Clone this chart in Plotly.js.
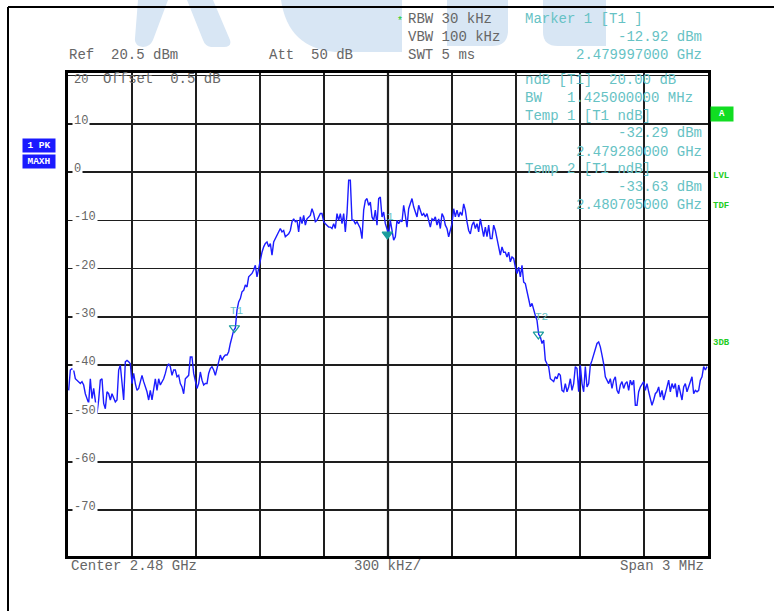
<!DOCTYPE html>
<html>
<head>
<meta charset="utf-8">
<script src="https://cdn.plot.ly/plotly-3.0.1.min.js"></script>
<style>
  html, body { margin: 0; padding: 0; background: #ffffff; }
  #chart { width: 774px; height: 611px; }
</style>
</head>
<body>
<div id="chart"></div>
<script>
// ---------------- DATA ----------------
const centerMHz = 2480.0;
const spanMHz = 3.0;
const refLevel = 20.5;
const yTickVals = [20, 10, 0, -10, -20, -30, -40, -50, -60, -70];

// trace levels (dBm), left half of the sweep
const levelsLeft = [
  -45.2,-41.0,-40.7,-41.0,-42.8,-43.1,-43.4,-43.8,-43.4,-44.1,
  -45.9,-47.2,-47.9,-42.8,-46.9,-44.8,-47.9,-50.0,-47.2,-43.1,
  -42.8,-47.9,-49.0,-45.5,-45.9,-47.2,-45.9,-46.6,-47.6,-47.2,
  -41.0,-40.0,-43.8,-47.2,-39.3,-39.0,-39.3,-39.7,-43.8,-41.7,
  -43.8,-45.2,-44.8,-43.4,-42.1,-43.4,-44.5,-45.5,-47.2,-45.2,
  -47.2,-44.5,-42.8,-45.2,-42.8,-44.1,-43.4,-42.8,-41.7,-40.3,
  -39.7,-40.3,-42.1,-41.0,-41.0,-42.4,-42.1,-43.8,-44.5,-45.9,
  -42.8,-42.4,-42.1,-38.3,-38.3,-41.7,-43.1,-44.8,-43.8,-41.4,
  -43.1,-44.1,-43.8,-43.8,-41.7,-40.7,-40.3,-41.0,-42.1,-40.3,
  -39.3,-37.9,-39.0,-38.3,-37.9,-37.9,-37.2,-35.5,-34.1,-32.8,
  -32.3,-28.6,-26.9,-26.2,-24.8,-24.5,-23.4,-23.8,-21.7,-21.4,
  -21.0,-20.3,-19.3,-21.7,-20.0,-17.9,-16.6,-15.5,-14.8,-14.5,
  -15.5,-14.8,-17.2,-14.5,-13.8,-13.1,-12.4,-11.7,-12.4,-12.1,
  -13.4,-13.1,-12.8,-12.1,-10.3,-9.7,-10.3,-10.0,-12.4,-9.3,
  -10.7,-9.0,-11.0,-9.7,-9.3,-9.0,-7.6,-8.6,-10.3,-10.0,
  -9.3,-8.6,-8.6,-10.3,-10.7,-11.0,-11.4,-11.4,-11.7,-10.7,
  -11.7,-8.6,-10.0,-8.6,-10.7,-8.6,-12.4,-8.6,-1.7,-1.7,
  -10.0,-10.0,-10.7,-10.3,-11.0,-11.7,-13.8,-7.9,-5.9,-5.5,
  -6.9,-6.2,-9.3,-10.0,-7.9,-11.0,-5.5,-5.2
];
// trace levels (dBm), right half of the sweep
const levelsRight = [
  -9.3,-8.3,-10.7,-11.7,-12.9,-10.0,-12.1,-14.1,-13.4,-10.0,
  -10.7,-10.0,-10.3,-6.9,-9.0,-11.4,-7.6,-6.6,-5.5,-7.2,
  -8.3,-9.3,-6.9,-7.9,-9.0,-8.6,-9.3,-8.6,-10.3,-11.4,
  -9.7,-10.0,-9.3,-11.0,-9.7,-11.7,-8.6,-9.3,-11.0,-11.7,
  -13.4,-11.7,-10.7,-7.6,-9.3,-7.9,-9.3,-8.3,-9.0,-6.6,
  -7.9,-10.3,-12.1,-12.8,-11.0,-10.3,-11.7,-10.7,-12.4,-9.7,
  -11.7,-13.4,-11.4,-13.4,-11.0,-13.8,-13.8,-11.0,-12.1,-13.8,
  -14.8,-17.2,-15.5,-16.6,-16.6,-17.6,-16.6,-18.6,-17.6,-17.9,
  -19.7,-21.0,-19.7,-21.7,-19.3,-22.8,-23.1,-24.5,-25.9,-27.9,
  -27.2,-28.6,-29.7,-30.7,-33.6,-34.1,-35.5,-34.8,-39.0,-39.7,
  -40.3,-42.8,-43.1,-43.4,-42.4,-42.8,-41.7,-42.1,-45.2,-45.5,
  -43.8,-45.5,-44.5,-42.8,-45.2,-43.8,-40.3,-40.7,-45.5,-40.0,
  -43.8,-45.5,-40.3,-44.5,-43.8,-40.0,-39.0,-37.9,-36.9,-35.5,
  -35.2,-36.2,-37.9,-39.7,-42.4,-43.1,-43.8,-42.8,-44.8,-43.1,
  -42.4,-45.2,-45.9,-44.1,-43.4,-44.8,-43.8,-43.4,-45.2,-43.1,
  -44.1,-43.1,-48.3,-48.3,-45.5,-44.5,-43.8,-43.4,-45.2,-43.8,
  -45.5,-46.9,-48.3,-47.2,-45.9,-45.5,-44.5,-46.6,-45.2,-47.2,
  -45.5,-44.5,-43.1,-45.5,-43.8,-44.8,-43.8,-46.6,-44.1,-45.5,
  -47.2,-44.5,-43.8,-45.5,-44.5,-43.4,-42.4,-45.9,-45.2,-45.5,
  -45.2,-43.1,-42.4,-40.3,-41.0,-40.3
];

// markers
const markerLabels = ["T1", "1", "T2"];
const markerFreqsMHz = [2479.280, 2479.997, 2480.705];
const markerLevels = [-32.29, -12.92, -33.63];
const markerSymbols = ["triangle-down-open", "triangle-down", "triangle-down-open"];

// ---------------- BUILD ----------------
const levels = levelsLeft.concat(levelsRight);
const fStart = centerMHz - spanMHz / 2;
const fStop = centerMHz + spanMHz / 2;
const step = spanMHz / levels.length;
const freqs = levels.map((_, i) => fStart + (i + 0.4) * step);

const L = 68, R = 708, T = 73, B = 556;
const px = x => (x - L) / (R - L);
const py = y => (B - y) / (B - T);

const MONO = "Liberation Mono, Courier New, monospace";
const GRAY = "#666666";
const CYAN = "#66c2c4";
const GREEN = "#22cc22";

function txt(text, x, y, anchor, color, size, extra) {
  return Object.assign({
    text: text, xref: "paper", yref: "paper", x: px(x), y: py(y),
    xanchor: anchor, yanchor: "middle", showarrow: false,
    font: { family: MONO, size: size || 14, color: color || GRAY }
  }, extra || {});
}
const boldFont = (size, color) => ({ family: MONO, size: size, color: color, weight: "bold" });

const annotations = [
  txt("Ref  20.5 dBm", 67, 55, "left"),
  txt("Att  50 dB", 267, 55, "left"),
  txt("RBW 30 kHz", 406, 19, "left"),
  txt("VBW 100 kHz", 406, 37, "left"),
  txt("SWT 5 ms", 406, 55, "left"),
  txt("*", 400, 21, "center", GREEN, 10),
  txt("Marker 1 [T1 ]", 523, 19, "left", CYAN),
  txt("-12.92 dBm", 704, 37, "right", CYAN),
  txt("2.479997000 GHz", 704, 55, "right", CYAN),
  txt("ndB [T1]  20.00 dB", 523, 80, "left", CYAN),
  txt("BW   1.425000000 MHz", 523, 98, "left", CYAN),
  txt("Temp 1 [T1 ndB]", 523, 116, "left", CYAN),
  txt("-32.29 dBm", 704, 133, "right", CYAN),
  txt("2.479280000 GHz", 704, 152, "right", CYAN),
  txt("Temp 2 [T1 ndB]", 523, 169, "left", CYAN),
  txt("-33.63 dBm", 704, 187, "right", CYAN),
  txt("2.480705000 GHz", 704, 205, "right", CYAN),
  txt("Offset  0.5 dB", 101, 79, "left"),
  txt("Center 2.48 GHz", 69, 566, "left"),
  txt("300 kHz/", 352, 566, "left"),
  txt("Span 3 MHz", 706, 566, "right"),
  txt("1 PK", 39, 145.5, "center", null, 9,
      { bgcolor: "#1a1aff", width: 30, height: 11, font: boldFont(9.5, "#ffffff") }),
  txt("MAXH", 39, 161, "center", null, 9,
      { bgcolor: "#1a1aff", width: 30, height: 11, font: boldFont(9.5, "#ffffff") }),
  txt("A", 722, 114, "center", null, 9,
      { bgcolor: "#11dd22", width: 20, height: 12, font: boldFont(9, "#ffffff") }),
  txt("LVL", 711, 176, "left", null, 9, { font: boldFont(9, GREEN) }),
  txt("TDF", 711, 206, "left", null, 9, { font: boldFont(9, GREEN) }),
  txt("3DB", 711, 343, "left", null, 9, { font: boldFont(9, GREEN) })
];

// marker labels above the triangles
markerLabels.forEach((lab, i) => {
  annotations.push({
    text: lab, xref: "x", yref: "y", x: markerFreqsMHz[i], y: markerLevels[i],
    xanchor: "center", yanchor: "bottom", yshift: 9, xshift: 3, showarrow: false,
    font: { family: MONO, size: 11, color: CYAN }
  });
});

// y-axis labels drawn inside the grid, interrupting the lines
yTickVals.forEach(v => {
  annotations.push({
    text: String(v), xref: "paper", yref: "y", x: px(72), y: v,
    xanchor: "left", yanchor: "middle", yshift: v === 20 ? -5 : 3,
    showarrow: false, bgcolor: v === 20 ? "rgba(0,0,0,0)" : "#ffffff", borderpad: 1,
    font: { family: MONO, size: 12, color: GRAY }
  });
});

// watermark (decorative) path helper: pixel coords -> paper coords
function wmPath(cmds) {
  return cmds.map(c => {
    const op = c[0];
    const pts = [];
    for (let k = 1; k < c.length; k += 2) pts.push(px(c[k]) + "," + py(c[k + 1]));
    return op + pts.join(" ");
  }).join(" ") + " Z";
}
const WM = "#d8e6f4";
const wmShapes = [
  [["M",138,0],["L",168,0],["L",153,40],["Q",150,47,143,47],["Q",134,46,135,38]],
  [["M",187,0],["L",213,0],["L",230,40],["Q",232,47,224,47],["L",211,47],["Q",205,46,203,40]],
  [["M",281,0],["L",402,0],["L",402,52],["L",335,52],["Q",288,48,281,0]],
  [["M",447,0],["L",508,0],["L",508,32],["Q",507,46,492,46],["L",447,46]],
  [["M",543,0],["L",606,0],["L",606,46],["L",558,46],["Q",543,46,543,32]]
].map(c => ({
  type: "path", xref: "paper", yref: "paper", path: wmPath(c),
  fillcolor: WM, line: { width: 0 }, layer: "below"
}));

const shapes = wmShapes.concat([
  { type: "line", xref: "paper", yref: "paper", x0: px(8), x1: px(775), y0: py(7), y1: py(7),
    line: { color: "#000", width: 2 } },
  { type: "line", xref: "paper", yref: "paper", x0: px(8), x1: px(8), y0: py(7), y1: py(612),
    line: { color: "#000", width: 2 } },
  { type: "line", xref: "x", yref: "paper", x0: centerMHz, x1: centerMHz, y0: 0, y1: 1,
    line: { color: "#000", width: 2.2 }, layer: "below" }
]);

const traces = [
  {
    x: freqs, y: levels, type: "scatter", mode: "lines",
    line: { color: "#1c1cff", width: 1.4 }, hoverinfo: "skip"
  },
  {
    x: markerFreqsMHz, y: markerLevels, type: "scatter", mode: "markers",
    marker: { symbol: markerSymbols, size: 9, color: "#1a9c9c", line: { color: "#1a9c9c", width: 1.2 } },
    hoverinfo: "skip"
  }
];

const layout = {
  width: 774, height: 611,
  margin: { l: L, r: 774 - R, t: T, b: 611 - B, pad: 0 },
  paper_bgcolor: "#ffffff", plot_bgcolor: "#ffffff",
  showlegend: false,
  xaxis: {
    range: [fStart, fStop], tick0: fStart, dtick: spanMHz / 10,
    showgrid: true, gridcolor: "#1e1e1e", gridwidth: 1.4,
    showticklabels: false, ticks: "", zeroline: false,
    showline: true, mirror: true, linecolor: "#000", linewidth: 3
  },
  yaxis: {
    range: [refLevel - 100, refLevel], tick0: -80, dtick: 10,
    showgrid: true, gridcolor: "#1e1e1e", gridwidth: 1.6,
    showticklabels: false, ticks: "", zeroline: false,
    showline: true, mirror: true, linecolor: "#000", linewidth: 3
  },
  annotations: annotations,
  shapes: shapes
};

Plotly.newPlot("chart", traces, layout, { displayModeBar: false, staticPlot: true });
</script>
</body>
</html>
